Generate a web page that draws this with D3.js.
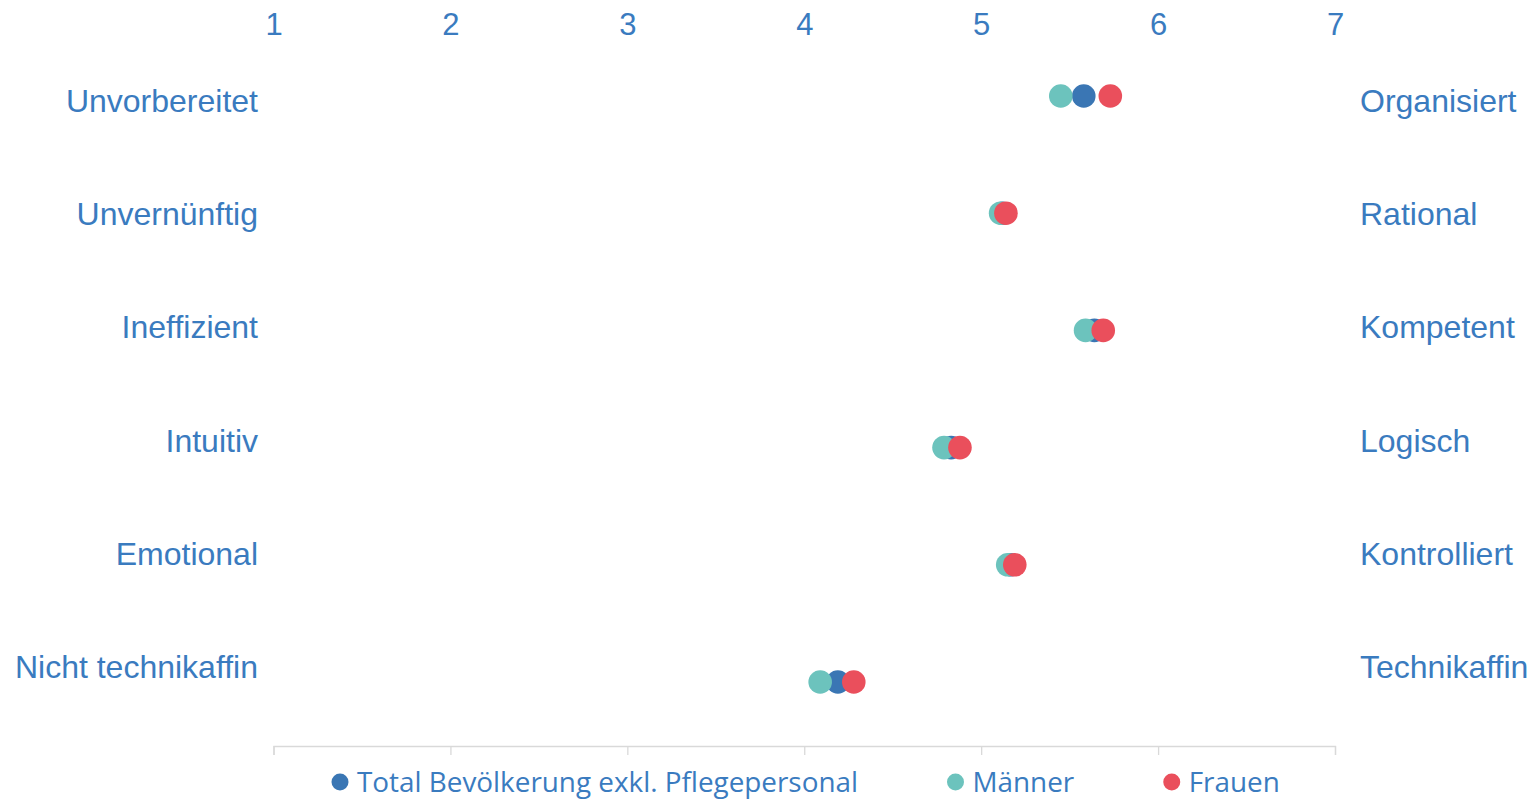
<!DOCTYPE html>
<meta charset="utf-8">
<style>
    body { margin: 0; background: #fff; }
    svg { display: block; }
    .lbl { font-family: "Liberation Sans", Arial, sans-serif; font-size: 32px; fill: #3a7bbf; }
    .tick text { font-family: "Liberation Sans", Arial, sans-serif; font-size: 31px; fill: #3a7bbf; }
    .legend text { font-family: "Open Sans", sans-serif; font-size: 28px; fill: #3a7bbf; }
</style>
<svg id="chart" width="1532" height="799"></svg>
<script src="https://cdn.jsdelivr.net/npm/d3@7"></script>
<script>
    // left / right pole of every item
    var leftLabels = ["Unvorbereitet", "Unvernünftig", "Ineffizient", "Intuitiv", "Emotional", "Nicht technikaffin"];
    var rightLabels = ["Organisiert", "Rational", "Kompetent", "Logisch", "Kontrolliert", "Technikaffin"];

    var seriesNames = ["Total Bevölkerung exkl. Pflegepersonal", "Männer", "Frauen"];
    var seriesColors = ["#3a76b4", "#6cc3bd", "#ea4f5c"];

    var totalValues = [5.58, 5.12, 5.64, 4.83, 5.17, 4.19];
    var maennerValues = [5.45, 5.11, 5.59, 4.79, 5.15, 4.09];
    var frauenValues = [5.73, 5.14, 5.69, 4.88, 5.19, 4.28];

    var tickValues = [1, 2, 3, 4, 5, 6, 7];

    var svg = d3.select("#chart");

    var x = d3.scaleLinear().domain([1, 7]).range([273.5, 1335]);
    var yDot = d3.scalePoint().domain(d3.range(6)).range([96, 682]);
    var yLabel = d3.scalePoint().domain(d3.range(6)).range([112, 678]);

    // top axis: numbers only
    var topAxis = svg.append("g")
        .attr("transform", "translate(0,35)")
        .call(d3.axisTop(x).tickValues(tickValues).tickSize(0).tickPadding(0).tickFormat(d3.format("d")));
    topAxis.select(".domain").remove();

    // bottom axis: light line with ticks, no labels
    var bottomAxis = svg.append("g")
        .attr("transform", "translate(0,746)")
        .call(d3.axisBottom(x).tickValues(tickValues).tickSize(9).tickSizeOuter(9).tickFormat(""));
    bottomAxis.select(".domain").attr("stroke", "#d9d9d9").attr("stroke-width", 1.3);
    bottomAxis.selectAll(".tick line").attr("stroke", "#d9d9d9").attr("stroke-width", 1.3);

    svg.append("g").selectAll("text")
        .data(leftLabels)
        .enter().append("text")
        .attr("class", "lbl")
        .attr("x", 258)
        .attr("y", function (d, i) { return yLabel(i); })
        .attr("text-anchor", "end")
        .text(function (d) { return d; });

    svg.append("g").selectAll("text")
        .data(rightLabels)
        .enter().append("text")
        .attr("class", "lbl")
        .attr("x", 1360)
        .attr("y", function (d, i) { return yLabel(i); })
        .attr("text-anchor", "start")
        .text(function (d) { return d; });

    // dots, total first, then Männer, then Frauen on top
    var allSeries = [totalValues, maennerValues, frauenValues];
    allSeries.forEach(function (vals, s) {
        svg.append("g").selectAll("circle")
            .data(vals)
            .enter().append("circle")
            .attr("cx", function (d) { return x(d); })
            .attr("cy", function (d, i) { return yDot(i); })
            .attr("r", 11.8)
            .attr("fill", seriesColors[s]);
    });

    // legend
    var legend = svg.append("g").attr("class", "legend");
    var items = legend.selectAll("g")
        .data(seriesNames)
        .enter().append("g");
    items.append("circle")
        .attr("r", 8.5)
        .attr("cy", 0)
        .attr("fill", function (d, i) { return seriesColors[i]; });
    var texts = items.append("text")
        .attr("x", 17)
        .attr("y", 10)
        .text(function (d) { return d; });

    // squeeze Open Sans to look like the narrower original font
    var natural = texts.nodes()[0].getComputedTextLength();
    var squeeze = 501 / natural;
    texts.each(function () {
        var w = this.getComputedTextLength() * squeeze;
        d3.select(this).attr("textLength", w).attr("lengthAdjust", "spacingAndGlyphs");
    });

    var gap = 89;
    var cursor = 340;
    items.each(function (d, i) {
        var t = texts.nodes()[i];
        d3.select(this).attr("transform", "translate(" + cursor + ",782)");
        cursor += 8.5 + 17 + (+t.getAttribute("textLength")) + gap;
    });
</script>
